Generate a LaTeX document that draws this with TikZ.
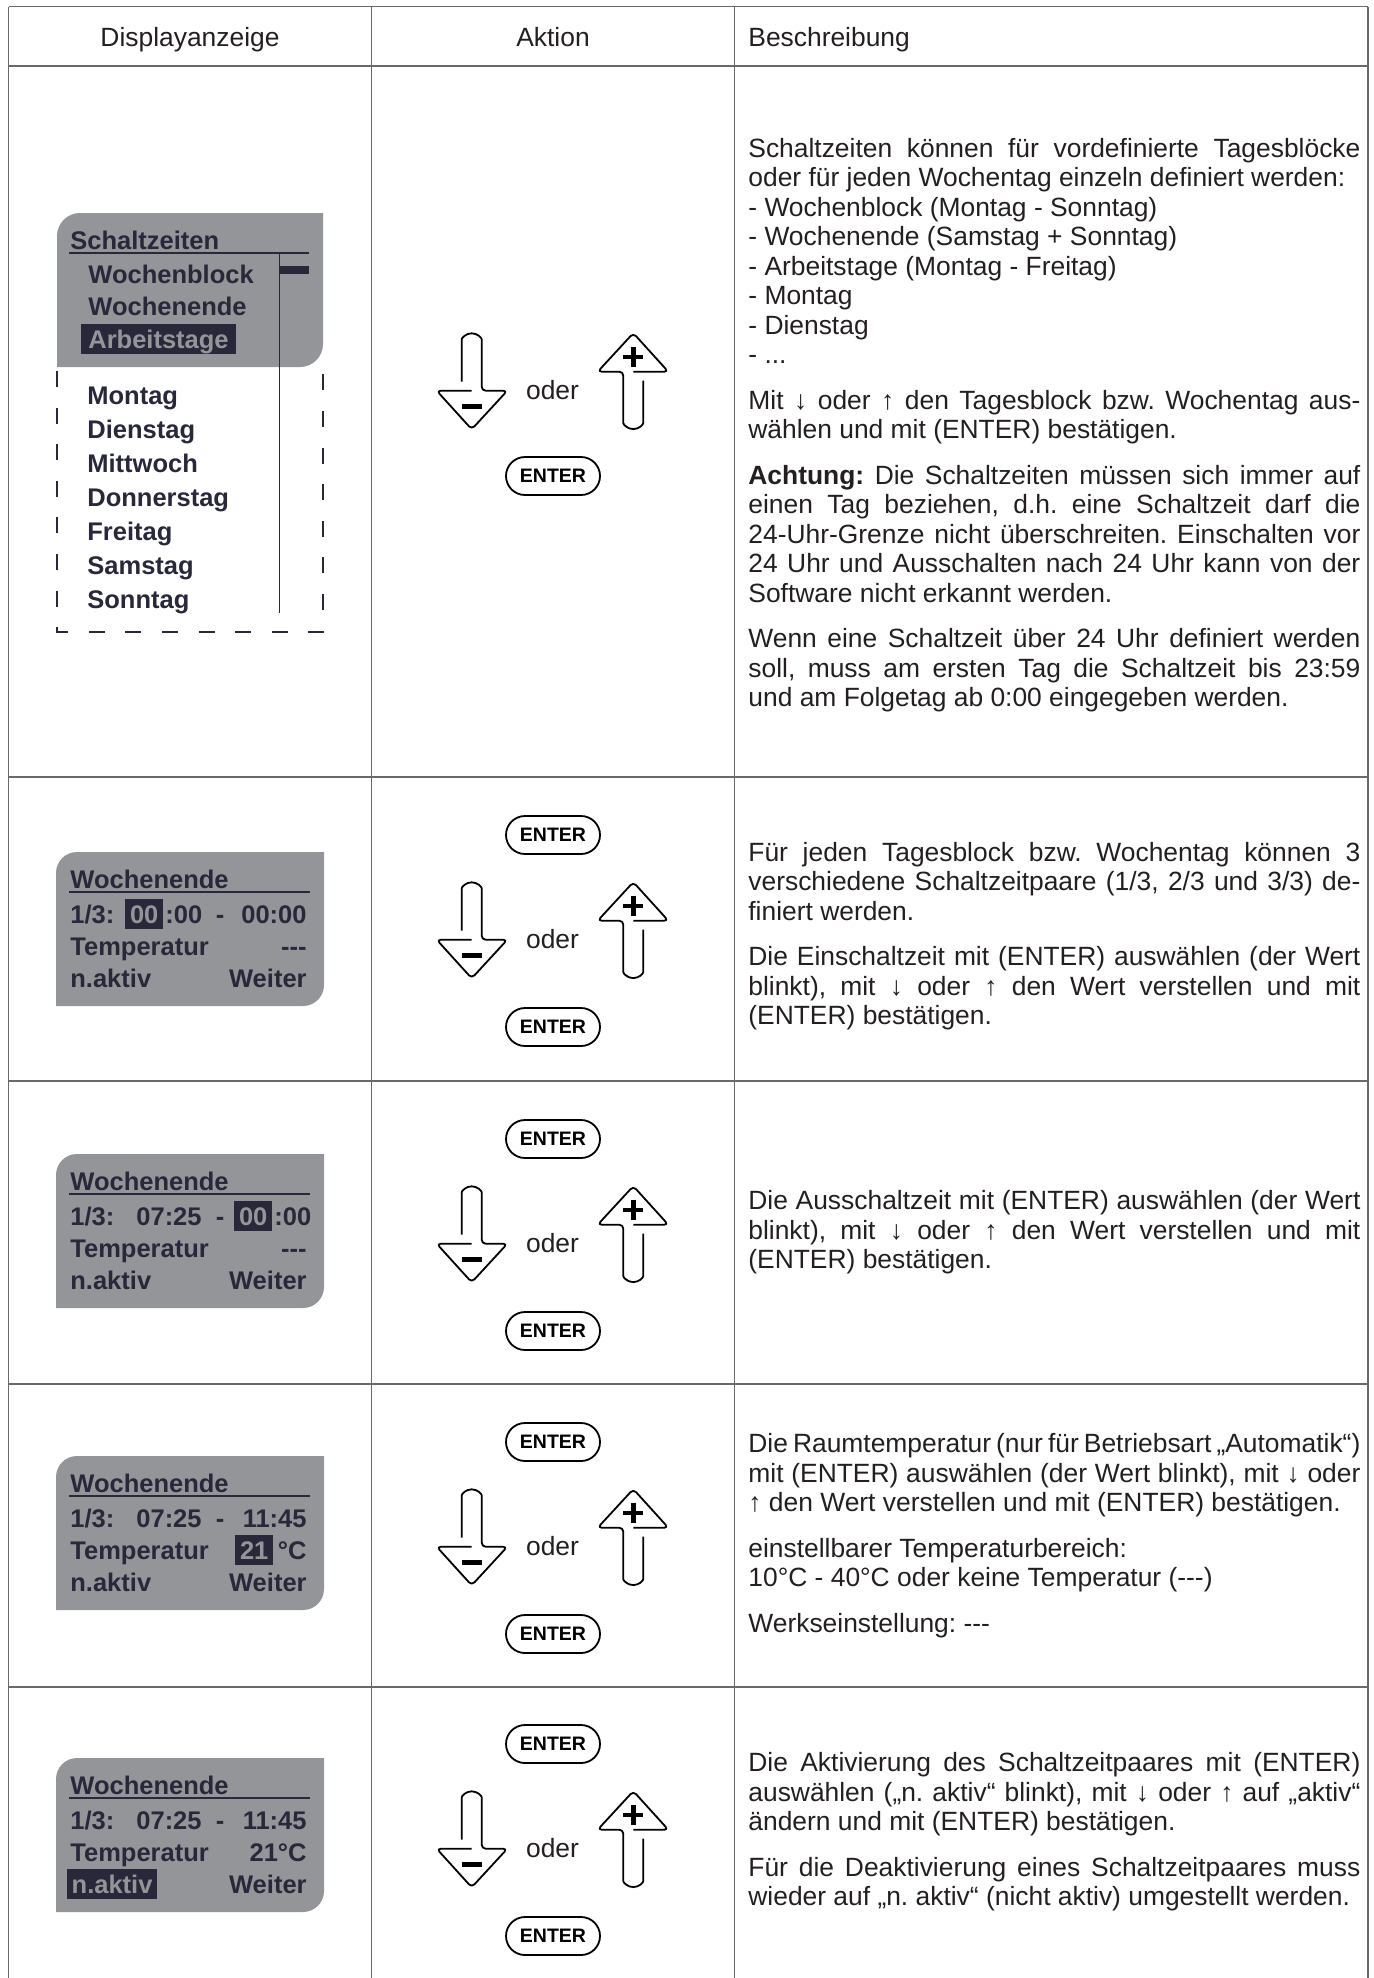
\documentclass[tikz,border=0pt]{standalone}
\usepackage{fontspec}
\setmainfont{Liberation Sans}[Ligatures=TeXOff]
\usetikzlibrary{calc}
\frenchspacing

\definecolor{lcdgray}{RGB}{147,149,153}
\definecolor{lcdink}{RGB}{40,40,58}
\definecolor{rulegray}{RGB}{105,105,105}
\definecolor{bodyink}{RGB}{35,31,32}

\newcommand{\lcdfont}{\fontsize{12.75pt}{16pt}\selectfont\bfseries}
\newcommand{\bodyfont}{\fontsize{13.2pt}{14.75pt}\selectfont}

\tikzset{
  gridline/.style={draw=rulegray, line width=0.75pt},
  headtext/.style={font=\bodyfont, text=bodyink, anchor=base, inner sep=0pt},
  lcd/.style={font=\lcdfont, text=lcdink, inner sep=0pt, anchor=base west},
  lcdsel/.style={lcd, fill=lcdink, text=lcdgray, inner xsep=2.3pt, inner ysep=1.5pt,
    text height=10.5pt, text depth=1.5pt},
  dashline/.style={draw=lcdink, line width=0.75pt, dash pattern=on 8pt off 10.3pt, dash phase=16.3pt},
  keyline/.style={draw=black, line width=0.9pt, line join=round, rounded corners=2pt},
  signline/.style={draw=black, line width=2.3pt},
  keytext/.style={font=\bodyfont, text=bodyink, anchor=base, inner sep=0pt},
  enterkey/.style={draw=black, line width=0.9pt, rounded corners=9.5pt, minimum width=47pt,
    minimum height=19pt, inner sep=0pt, font=\fontsize{9.75pt}{11pt}\selectfont\bfseries},
  desc/.style={anchor=west, text width=306pt, align=justify, inner sep=0pt, font=\bodyfont,
    text=bodyink, execute at begin node={\setlength{\parskip}{8pt}\setlength{\parindent}{0pt}\tolerance=10000 }},
  pics/arrowkey/.style={code={
    \draw[keyline] (0,-2.3) -- (-35,-2.3) -- (0,36.3) -- (35.6,-2.3) -- (10,-2.3)
      -- (10,-49.7) arc[start angle=0, end angle=-180, radius=10] -- (-10,-11.3);
  }}
}

% arrow keys with "oder" between them
\newcommand{\keypad}[2]{%
  \begin{scope}[shift={(0,#1)}]
    \pic at (471.7,0) {arrowkey};
    \draw[signline] (461.7,13.7) -- (481.7,13.7);
    \pic[rotate=180] at (633.3,-23.6) {arrowkey};
    \draw[signline] (623.3,-36.2) -- (643.3,-36.2) (633.3,-46.3) -- (633.3,-26.3);
    \node[keytext] (#2oder) at (552.5,6.7) {oder};
  \end{scope}
}

% display frame with title line, drawn at the scope origin
\newcommand{\lcdscreen}[1]{%
  \fill[lcdgray] (56,154) -- (56,21) arc[start angle=180, end angle=270, radius=21]
    -- (324,0) -- (324,133) arc[start angle=0, end angle=90, radius=21] -- cycle;
  \node[lcd] (#1title) at (70,36) {Wochenende};
  \draw[lcdink, line width=0.75pt] (69,40) -- (310,40);
}

\begin{document}
\begin{tikzpicture}[x=0.5pt, y=-0.5pt]
  \useasboundingbox (0,0) rectangle (1374,1978);

  % Table
  \foreach \ry in {6.5,66,777,1081,1384,1687}
    \draw[gridline] (8.5,\ry) -- (1368,\ry);
  \foreach \cx in {8.5,371.5,734.5,1368}
    \draw[gridline] (\cx,6.5) -- (\cx,1978);

  \node[headtext] (hdisplay) at (190,46) {Displayanzeige};
  \node[headtext] (haktion) at (553,46) {Aktion};
  \node[headtext, anchor=base west] (hbeschr) at (748,46) {Beschreibung};

  % Row 1: menu Schaltzeiten
  \fill[lcdgray] (57,367) -- (57,236) arc[start angle=180, end angle=270, radius=23]
    -- (323,213) -- (323,344) arc[start angle=0, end angle=90, radius=23] -- cycle;
  \draw[dashline] (57,367) -- (57,632) -- (323,632) -- (323,367);
  \node[lcd] (menutitle) at (70,249) {Schaltzeiten};
  \draw[lcdink, line width=0.75pt] (69,253) -- (309,253);
  \draw[lcdink, line width=0.6pt] (279.5,253) -- (279.5,613);
  \fill[lcdink] (280,266) rectangle (309,274);
  \node[lcd] (menublock) at (88,283) {Wochenblock};
  \node[lcd] (menuend) at (88,315.5) {Wochenende};
  \node[lcdsel, inner xsep=3.5pt] (menuwork) at (81,348) {Arbeitstage};
  \foreach \day [count=\i from 0] in {Montag,Dienstag,Mittwoch,Donnerstag,Freitag,Samstag,Sonntag}
    \node[lcd] (menuday\i) at (87,404+34*\i) {\day};

  \keypad{393}{rowA}
  \node[enterkey] (enterA) at (553,476) {ENTER};

  \node[desc] (descA) at (748,425) {%
    Schaltzeiten können für vordefinierte Tagesblöcke\linebreak
    oder für jeden Wochentag einzeln definiert werden:\newline
    - Wochenblock (Montag - Sonntag)\newline
    - Wochenende (Samstag + Sonntag)\newline
    - Arbeitstage (Montag - Freitag)\newline
    - Montag\newline
    - Dienstag\newline
    - ...\par
    Mit ↓ oder ↑ den Tagesblock bzw. Wochentag aus-\linebreak
    wählen und mit (ENTER) bestätigen.\par
    \textbf{Achtung:} Die Schaltzeiten müssen sich immer auf\linebreak
    einen Tag beziehen, d.h. eine Schaltzeit darf die\linebreak
    24-Uhr-Grenze nicht überschreiten. Einschalten vor\linebreak
    24 Uhr und Ausschalten nach 24 Uhr kann von der\linebreak
    Software nicht erkannt werden.\par
    Wenn eine Schaltzeit über 24 Uhr definiert werden\linebreak
    soll, muss am ersten Tag die Schaltzeit bis 23:59\linebreak
    und am Folgetag ab 0:00 eingegeben werden.};

  % Row 2: switch-on time
  \begin{scope}[shift={(0,852)}]
    \lcdscreen{scrB}
    \node[lcd] (scrBslot) at (70,71) {1/3:};
    \node[lcdsel] (scrBon) at (125,71) {00};
    \node[lcd] (scrBonm) at (165,71) {:00};
    \node[lcd, anchor=base] (scrBdash) at (220,71) {-};
    \node[lcd, anchor=base east] (scrBoff) at (307,71) {00:00};
    \node[lcd] (scrBtemp) at (70,103) {Temperatur};
    \node[lcd, anchor=base east] (scrBval) at (307,103) {---};
    \node[lcd] (scrBact) at (70,135) {n.aktiv};
    \node[lcd, anchor=base east] (scrBnext) at (307,135) {Weiter};
  \end{scope}

  \node[desc] (descB) at (748,936) {%
    Für jeden Tagesblock bzw. Wochentag können 3\linebreak
    verschiedene Schaltzeitpaare (1/3, 2/3 und 3/3) de-\linebreak
    finiert werden.\par
    Die Einschaltzeit mit (ENTER) auswählen (der Wert\linebreak
    blinkt), mit ↓ oder ↑ den Wert verstellen und mit\linebreak
    (ENTER) bestätigen.};

  % Row 3: switch-off time
  \begin{scope}[shift={(0,1154)}]
    \lcdscreen{scrC}
    \node[lcd] (scrCslot) at (70,71) {1/3:};
    \node[lcd] (scrCon) at (136,71) {07:25};
    \node[lcd, anchor=base] (scrCdash) at (220,71) {-};
    \node[lcdsel] (scrCoff) at (234,71) {00};
    \node[lcd] (scrCoffm) at (274,71) {:00};
    \node[lcd] (scrCtemp) at (70,103) {Temperatur};
    \node[lcd, anchor=base east] (scrCval) at (307,103) {---};
    \node[lcd] (scrCact) at (70,135) {n.aktiv};
    \node[lcd, anchor=base east] (scrCnext) at (307,135) {Weiter};
  \end{scope}

  \node[desc] (descC) at (748,1232.5) {%
    Die Ausschaltzeit mit (ENTER) auswählen (der Wert\linebreak
    blinkt), mit ↓ oder ↑ den Wert verstellen und mit\linebreak
    (ENTER) bestätigen.};

  % Row 4: room temperature
  \begin{scope}[shift={(0,1456)}]
    \lcdscreen{scrD}
    \node[lcd] (scrDslot) at (70,71) {1/3:};
    \node[lcd] (scrDon) at (136,71) {07:25};
    \node[lcd, anchor=base] (scrDdash) at (220,71) {-};
    \node[lcd, anchor=base east] (scrDoff) at (307,71) {11:45};
    \node[lcd] (scrDtemp) at (70,103) {Temperatur};
    \node[lcdsel] (scrDval) at (235,103) {21};
    \node[lcd, anchor=base east] (scrDunit) at (307,103) {°C};
    \node[lcd] (scrDact) at (70,135) {n.aktiv};
    \node[lcd, anchor=base east] (scrDnext) at (307,135) {Weiter};
  \end{scope}

  \node[desc] (descD) at (748,1535.5) {%
    {\spaceskip=0.15em plus 0.1em minus 0.02em
    Die Raumtemperatur (nur für Betriebsart „Automatik“)}\linebreak
    mit (ENTER) auswählen (der Wert blinkt), mit ↓ oder\linebreak
    ↑ den Wert verstellen und mit (ENTER) bestätigen.\par
    einstellbarer Temperaturbereich:\newline
    10°C - 40°C oder keine Temperatur (---)\par
    Werkseinstellung: ---};

  % Row 5: activation
  \begin{scope}[shift={(0,1758)}]
    \lcdscreen{scrE}
    \node[lcd] (scrEslot) at (70,71) {1/3:};
    \node[lcd] (scrEon) at (136,71) {07:25};
    \node[lcd, anchor=base] (scrEdash) at (220,71) {-};
    \node[lcd, anchor=base east] (scrEoff) at (307,71) {11:45};
    \node[lcd] (scrEtemp) at (70,103) {Temperatur};
    \node[lcd, anchor=base east] (scrEval) at (307,103) {21°C};
    \node[lcdsel] (scrEact) at (66.7,135) {n.aktiv};
    \node[lcd, anchor=base east] (scrEnext) at (307,135) {Weiter};
  \end{scope}

  \node[desc] (descE) at (748,1832) {%
    Die Aktivierung des Schaltzeitpaares mit (ENTER)\linebreak
    auswählen („n. aktiv“ blinkt), mit ↓ oder ↑ auf „aktiv“\linebreak
    ändern und mit (ENTER) bestätigen.\par
    Für die Deaktivierung eines Schaltzeitpaares muss\linebreak
    wieder auf „n. aktiv“ (nicht aktiv) umgestellt werden.};

  % Rows 2-5: ENTER, arrows, ENTER
  \foreach \oy/\nm in {942/B,1246/C,1549/D,1851/E} {
    \keypad{\oy}{row\nm}
    \node[enterkey] (enter\nm1) at (553,\oy-107) {ENTER};
    \node[enterkey] (enter\nm2) at (553,\oy+85) {ENTER};
  }
\end{tikzpicture}
\end{document}
